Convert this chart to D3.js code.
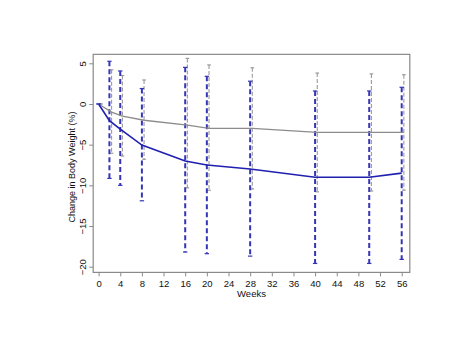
<!DOCTYPE html>
<html><head><meta charset="utf-8">
<script src="https://cdn.jsdelivr.net/npm/d3@7"></script>
<style>
html,body{margin:0;padding:0;background:#fff;}
svg{display:block;}
text{font-family:"Liberation Sans",Arial,sans-serif;fill:#111;}
</style></head>
<body>
<svg id="chart" width="474" height="355"></svg>
<script>
const weeks = [0, 2, 4, 8, 16, 20, 28, 40, 50, 56];
const blueMean  = [0, -2.05, -3.1, -5.05, -7.0, -7.5, -8.0, -9.0, -9.0, -8.5];
const blueUpper = [0, 5.25, 4.06, 1.9, 4.5, 3.4, 2.8, 1.6, 1.6, 2.05];
const blueLower = [0, -9.15, -10.0, -11.9, -18.2, -18.4, -18.7, -19.6, -19.6, -19.1];
const grayMean  = [0, -1.0, -1.5, -2.0, -2.6, -3.0, -3.0, -3.5, -3.5, -3.5];
const grayUpper = [0, 4.2, 3.5, 2.95, 5.6, 4.8, 4.45, 3.8, 3.7, 3.6];
const grayLower = [0, -6.05, -6.4, -6.8, -10.3, -10.6, -10.45, -10.8, -10.7, -10.6];
const xTicks = [0, 4, 8, 12, 16, 20, 24, 28, 32, 36, 40, 44, 48, 52, 56];
const yTicks = [5, 0, -5, -10, -15, -20];
const xTitle = "Weeks";
const yTitle = "Change in Body Weight (%)";

(function () {
const svg = d3.select("#chart");
const x = d3.scaleLinear().domain([0, 56]).range([98.6, 401.7]);
const y = d3.scaleLinear().domain([-20, 5]).range([266.7, 63.3]);
const grayOffset = 0.4;
const fs = 9.5;

const fL = x(-1.0), fR = x(57.5), fT = y(6.1), fB = y(-20.7);

// frame
svg.append("rect").attr("x", fL).attr("y", fT)
  .attr("width", fR - fL).attr("height", fB - fT)
  .attr("fill", "none").attr("stroke", "#8a8a8a").attr("stroke-width", 1.2);

// x axis
const xAxis = d3.axisBottom(x).tickValues(xTicks).tickSize(4).tickPadding(4).tickFormat(d3.format("d"));
const gx = svg.append("g").attr("transform", `translate(0,${fB})`).call(xAxis);
gx.select(".domain").remove();
gx.selectAll(".tick line").attr("stroke", "#8a8a8a");
gx.selectAll(".tick text").attr("font-size", fs).attr("fill", "#111")
  .attr("font-family", "Liberation Sans, Arial, sans-serif");

// y axis
const yAxis = d3.axisLeft(y).tickValues(yTicks).tickSize(4).tickPadding(3).tickFormat(d3.format("d"));
const gy = svg.append("g").attr("transform", `translate(${fL},0)`).call(yAxis);
gy.select(".domain").remove();
gy.selectAll(".tick line").attr("stroke", "#8a8a8a");
gy.selectAll(".tick text").attr("font-size", fs).attr("fill", "#111")
  .attr("font-family", "Liberation Sans, Arial, sans-serif")
  .attr("text-anchor", "middle").attr("x", 0).attr("dy", 0)
  .attr("transform", "translate(-7,0) rotate(-90)");

// titles
svg.append("text").attr("x", (fL + fR) / 2).attr("y", 296.5)
  .attr("text-anchor", "middle").attr("font-size", fs).text(xTitle);
svg.append("text").attr("transform", `translate(75,167) rotate(-90)`)
  .attr("text-anchor", "middle").attr("font-size", 9).text(yTitle);

// error bars
function errBars(off, upper, lower, color, width, dash, cap) {
  const g = svg.append("g");
  weeks.forEach((w, i) => {
    const cx = x(w + off);
    g.append("line").attr("x1", cx).attr("x2", cx)
      .attr("y1", y(upper[i])).attr("y2", y(lower[i]))
      .attr("stroke", color).attr("stroke-width", width).attr("stroke-dasharray", dash);
    [upper[i], lower[i]].forEach(v => {
      g.append("line").attr("x1", cx - cap).attr("x2", cx + cap)
        .attr("y1", y(v)).attr("y2", y(v))
        .attr("stroke", color).attr("stroke-width", 1.2);
    });
  });
}
errBars(grayOffset, grayUpper, grayLower, "#9a9a9a", 1.1, "4,2", 1.8);
errBars(0, blueUpper, blueLower, "#3535b8", 2, "5,3", 2.2);

// lines
const grayLine = d3.line().x((d, i) => x(weeks[i] + (i === 0 ? 0 : grayOffset))).y(d => y(d));
svg.append("path").datum(grayMean).attr("d", grayLine)
  .attr("fill", "none").attr("stroke", "#8c8c8c").attr("stroke-width", 1.3);
const blueLine = d3.line().x((d, i) => x(weeks[i])).y(d => y(d));
svg.append("path").datum(blueMean).attr("d", blueLine)
  .attr("fill", "none").attr("stroke", "#1f1fb0").attr("stroke-width", 1.6);
})();
</script>
</body></html>
